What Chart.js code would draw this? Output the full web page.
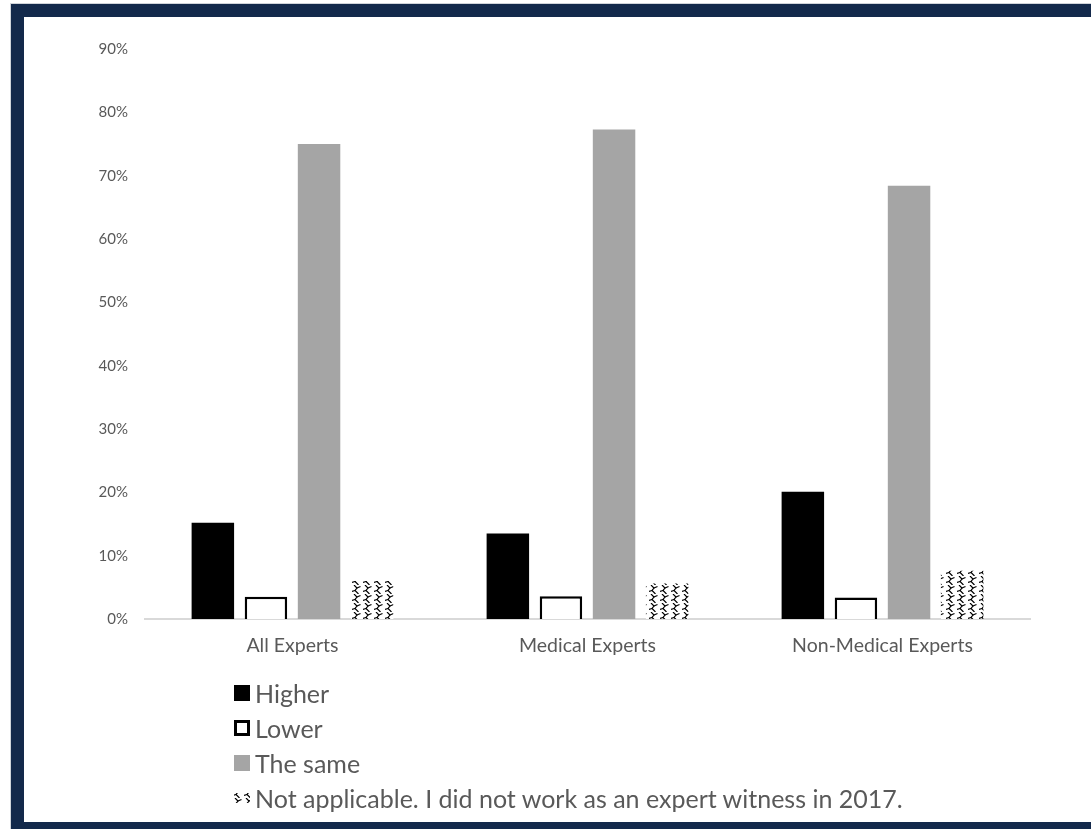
<!DOCTYPE html>
<html>
<head>
<meta charset="utf-8">
<script src="https://cdn.jsdelivr.net/npm/chart.js@4"></script>
<style>
  body { margin: 0; background: #fff; width: 1091px; height: 829px; overflow: hidden; position: relative; font-family: Lato, "Open Sans", sans-serif; }
  #grafico { position: absolute; left: 0; top: 0; }
  #moldura { position: absolute; left: 11px; top: 4px; width: 1100px; height: 831px; border: 13px solid #13294b; box-sizing: border-box; box-shadow: 0 0 0 1px #d0d4da; pointer-events: none; }
  #legenda { position: absolute; left: 233px; top: 675px; font-size: 25px; color: #595959; }
  .item { height: 35px; display: flex; align-items: center; white-space: nowrap; }
  .item canvas { margin-right: 4px; }
</style>
</head>
<body>
<canvas id="grafico" width="1091" height="829"></canvas>
<div id="legenda"></div>
<div id="moldura"></div>
<script>
// === DADOS ===
const categorias = ["All Experts", "Medical Experts", "Non-Medical Experts"];
const nomesSeries = ["Higher", "Lower", "The same", "Not applicable. I did not work as an expert witness in 2017."];
const higher = [0.152, 0.135, 0.201];
const lower = [0.035, 0.036, 0.034];
const same = [0.750, 0.773, 0.684];
const naoAplicavel = [0.060, 0.056, 0.076];
const yTickLabels = ["0%", "10%", "20%", "30%", "40%", "50%", "60%", "70%", "80%", "90%"];

// === PADRÃO "ONDA" PARA A ÚLTIMA SÉRIE ===
function criarPadrao(ctx) {
  const tile = document.createElement("canvas");
  tile.width = 11;
  tile.height = 9;
  const t = tile.getContext("2d");
  t.fillStyle = "#fff";
  t.fillRect(0, 0, 11, 9);
  t.strokeStyle = "#000";
  t.lineWidth = 1.2;
  t.beginPath();
  t.moveTo(2, 0);
  t.lineTo(5, 3);
  t.lineTo(3, 5.5);
  t.lineTo(6.5, 9);
  t.stroke();
  t.beginPath();
  t.moveTo(5, 3);
  t.lineTo(8.5, 1.5);
  t.stroke();
  t.beginPath();
  t.moveTo(3, 5.5);
  t.lineTo(0, 6.5);
  t.stroke();
  return ctx.createPattern(tile, "repeat");
}

const ctx = document.getElementById("grafico").getContext("2d");
const padrao = criarPadrao(ctx);

const comum = { categoryPercentage: 0.72, barPercentage: 0.8 };

const grafico = new Chart(ctx, {
  type: "bar",
  data: {
    labels: categorias,
    datasets: [
      { label: nomesSeries[0], data: higher, backgroundColor: "#000000", ...comum },
      { label: nomesSeries[1], data: lower, backgroundColor: "#ffffff", borderColor: "#000000", borderWidth: 2.5, ...comum },
      { label: nomesSeries[2], data: same, backgroundColor: "#a5a5a5", ...comum },
      { label: nomesSeries[3], data: naoAplicavel, backgroundColor: padrao, ...comum }
    ]
  },
  options: {
    responsive: false,
    animation: false,
    layout: { padding: { left: 0, right: 61, top: 49, bottom: 0 } },
    plugins: { legend: { display: false }, tooltip: { enabled: false } },
    scales: {
      y: {
        min: 0,
        max: 0.9,
        ticks: {
          stepSize: 0.1,
          callback: (v, i) => yTickLabels[i],
          color: "#595959",
          font: { family: "Lato", size: 15 },
          padding: 17
        },
        grid: { display: false, drawTicks: false },
        border: { display: false },
        afterFit: s => { s.width = 145; }
      },
      x: {
        ticks: { color: "#595959", font: { family: "Lato", size: 19.5 }, padding: 15 },
        grid: { display: false, drawTicks: false },
        border: { color: "#d9d9d9", width: 2 },
        afterFit: s => { s.height = 210; }
      }
    }
  }
});

// === LEGENDA VERTICAL ===
const legenda = document.getElementById("legenda");
grafico.data.datasets.forEach(ds => {
  const item = document.createElement("div");
  item.className = "item";
  const c = document.createElement("canvas");
  c.width = 18;
  c.height = 18;
  const g = c.getContext("2d");
  if (ds.borderWidth) {
    g.fillStyle = ds.borderColor;
    g.fillRect(1, 1, 16, 16);
    g.fillStyle = ds.backgroundColor;
    g.fillRect(4, 4, 10, 10);
  } else if (ds.backgroundColor === padrao) {
    g.fillStyle = criarPadrao(g);
    g.fillRect(1, 4, 16, 10);
  } else {
    g.fillStyle = ds.backgroundColor;
    g.fillRect(1, 1, 16, 16);
  }
  const txt = document.createElement("span");
  txt.textContent = ds.label;
  item.appendChild(c);
  item.appendChild(txt);
  legenda.appendChild(item);
});
</script>
</body>
</html>
